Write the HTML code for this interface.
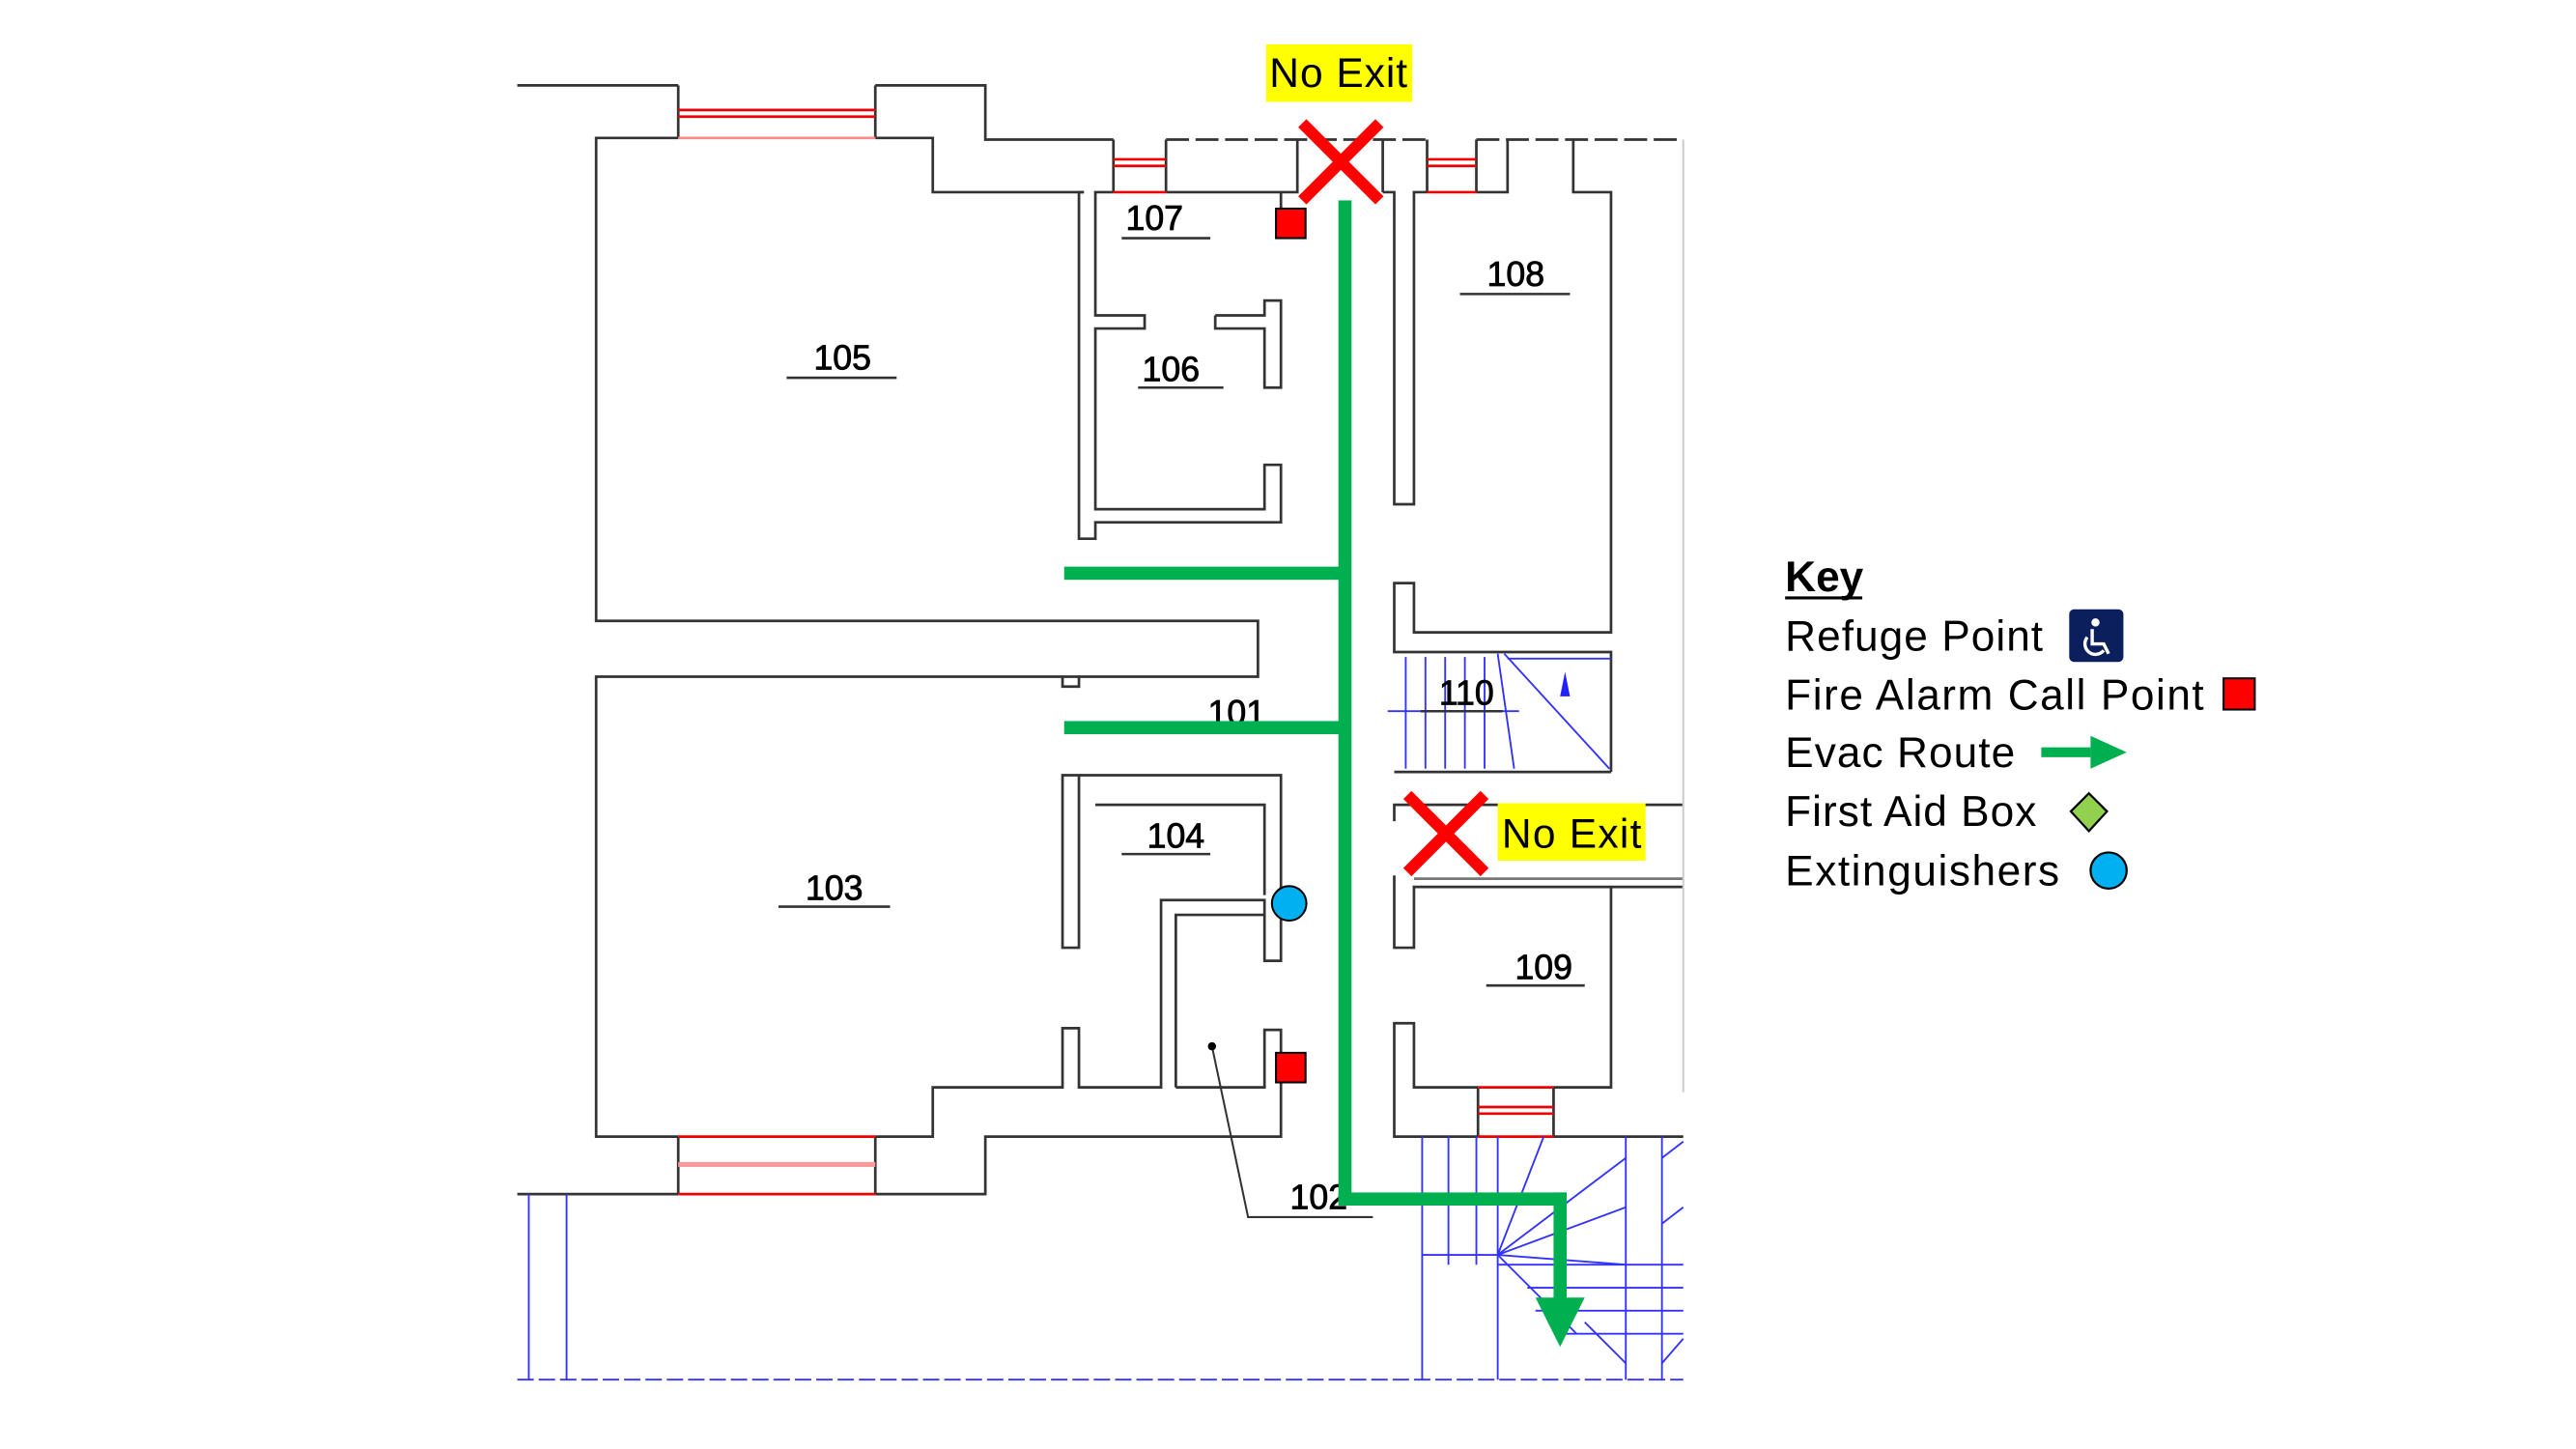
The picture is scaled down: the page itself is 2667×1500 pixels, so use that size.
<!DOCTYPE html>
<html><head><meta charset="utf-8"><style>
html,body{margin:0;padding:0;background:#fff;}
svg{display:block;}
text{font-family:"Liberation Sans",sans-serif;}
</style></head><body>
<svg width="2667" height="1500" viewBox="0 0 1568.6 882.2" preserveAspectRatio="none" xmlns="http://www.w3.org/2000/svg">
<rect width="1568.6" height="882.2" fill="#fff"/>
<g stroke="#333" stroke-width="1.6" fill="none">
<polyline points="315,52 413,52"/>
<polyline points="533,52 600,52 600,85 678,85"/>
<line x1="710" y1="85" x2="869" y2="85" stroke-dasharray="14 4"/>
<line x1="899" y1="85" x2="1025" y2="85" stroke-dasharray="14 4"/>
<line x1="413" y1="52" x2="413" y2="84"/><line x1="533" y1="52" x2="533" y2="84"/>
<polyline points="413,84 363,84 363,378 766,378 766,412 363,412 363,692 413,692"/>
<polyline points="533,84 568,84 568,117 660,117"/>
<polyline points="660,117 657,117 657,328 667,328 667,318 780,318 780,283 770,283 770,310 667,310 667,200 697,200 697,192 667,192 667,117 678,117"/>
<polyline points="740,192 770,192 770,183 780,183 780,236 770,236 770,200 740,200 740,192"/>
<polyline points="710,117 790,117 790,85"/>
<polyline points="780,117 780,140"/>
<line x1="678" y1="85" x2="678" y2="117"/><line x1="710" y1="85" x2="710" y2="117"/>
<line x1="842" y1="85" x2="842" y2="117"/>
<polyline points="842,117 849,117 849,307 861,307 861,117 869,117"/>
<line x1="869" y1="85" x2="869" y2="117"/><line x1="899" y1="85" x2="899" y2="117"/>
<polyline points="899,117 918,117 918,85"/>
<polyline points="958,85 958,117 981,117 981,385 861,385 861,355 849,355 849,397 981,397 981,470"/>
<polyline points="849,470 981,470"/>
<polyline points="849,500 849,490 1025,490"/>
<polyline points="849,533 849,577 861,577 861,540 1025,540"/>
<line x1="861" y1="535" x2="1025" y2="535" stroke="#777"/>
<polyline points="981,540 981,662 946,662"/>
<polyline points="900,662 861,662 861,623 849,623 849,692 900,692"/>
<polyline points="946,692 1025,692"/>
<line x1="900" y1="662" x2="900" y2="692"/><line x1="946" y1="662" x2="946" y2="692"/>
<polyline points="533,692 568,692 568,662 647,662 647,626 657,626 657,662 707,662 707,548 770,548 770,585 780,585 780,472 657,472 657,577 647,577 647,472 657,472"/>
<polyline points="667,490 770,490 770,545"/>
<polyline points="716,662 716,557 770,557"/>
<polyline points="716,662 770,662 770,627 780,627 780,692 600,692 600,727 533,727"/>
<line x1="413" y1="692" x2="413" y2="727"/><line x1="533" y1="692" x2="533" y2="727"/>
<polyline points="315,727 413,727"/>
<polyline points="647,412 647,418 657,418 657,412"/>
<polyline points="738,637 760,741 836,741" stroke-width="1.2"/>
</g>
<circle cx="738" cy="637" r="2.5" fill="#000"/>
<g stroke="#e00" stroke-width="1.6">
<line x1="413" y1="67" x2="533" y2="67"/><line x1="413" y1="71" x2="533" y2="71"/>
<line x1="413" y1="84" x2="533" y2="84" stroke="#f88"/>
<line x1="678" y1="97" x2="710" y2="97"/><line x1="678" y1="101" x2="710" y2="101"/>
<line x1="678" y1="117" x2="710" y2="117"/>
<line x1="869" y1="97" x2="899" y2="97"/><line x1="869" y1="101" x2="899" y2="101"/>
<line x1="869" y1="117" x2="899" y2="117"/>
<line x1="900" y1="662" x2="946" y2="662"/><line x1="900" y1="674" x2="946" y2="674"/><line x1="900" y1="678" x2="946" y2="678"/><line x1="900" y1="692" x2="946" y2="692"/>
<line x1="413" y1="692" x2="533" y2="692"/><line x1="413" y1="727" x2="533" y2="727"/>
<line x1="413" y1="709" x2="533" y2="709" stroke="#f99" stroke-width="3"/>
</g>
<line x1="1025" y1="85" x2="1025" y2="665" stroke="#ccc" stroke-width="1.2"/>
<g stroke="#33f" stroke-width="1.1" fill="none">
<line x1="856" y1="400" x2="856" y2="468"/><line x1="868" y1="400" x2="868" y2="468"/><line x1="880" y1="400" x2="880" y2="468"/><line x1="892" y1="400" x2="892" y2="468"/><line x1="904" y1="400" x2="904" y2="468"/>
<line x1="912" y1="398" x2="922" y2="468"/><line x1="916" y1="398" x2="980" y2="468"/>
<line x1="918" y1="401" x2="981" y2="401"/>
<line x1="845" y1="433" x2="925" y2="433"/>
<line x1="322" y1="727" x2="322" y2="840"/><line x1="345" y1="727" x2="345" y2="840"/>
<line x1="315" y1="840" x2="1025" y2="840" stroke-dasharray="10 3"/>
<line x1="866" y1="692" x2="866" y2="840"/><line x1="882" y1="692" x2="882" y2="770"/><line x1="899" y1="692" x2="899" y2="770"/>
<line x1="912" y1="692" x2="912" y2="840"/><line x1="990" y1="692" x2="990" y2="840"/><line x1="1012" y1="692" x2="1012" y2="840"/>
<line x1="866" y1="764" x2="912" y2="764"/>
<line x1="940" y1="692" x2="912" y2="764"/>
<line x1="912" y1="764" x2="990" y2="705"/><line x1="912" y1="764" x2="990" y2="735"/><line x1="912" y1="764" x2="990" y2="770"/>
<line x1="912" y1="764" x2="960" y2="812"/><line x1="965" y1="805" x2="990" y2="830"/>
<line x1="912" y1="770" x2="1025" y2="770"/><line x1="930" y1="784" x2="1025" y2="784"/><line x1="935" y1="798" x2="1025" y2="798"/><line x1="950" y1="812" x2="1025" y2="812"/>
<line x1="1012" y1="705" x2="1025" y2="695"/><line x1="1012" y1="745" x2="1025" y2="735"/><line x1="1012" y1="830" x2="1025" y2="815"/>
</g>
<polygon points="953,409 956,424 950,424" fill="#22f"/>
<g font-size="21" fill="#000" text-anchor="middle" stroke="#000" stroke-width="0.5">
<text x="703" y="140">107</text><text x="713" y="232">106</text><text x="513" y="225">105</text>
<text x="923" y="174">108</text><text x="893" y="429">110</text><text x="753" y="441">101</text>
<text x="716" y="516">104</text><text x="508" y="548">103</text><text x="940" y="596">109</text>
<text x="803" y="736">102</text>
</g>
<g stroke="#333" stroke-width="1.5">
<line x1="683" y1="145" x2="737" y2="145"/><line x1="693" y1="236" x2="745" y2="236"/><line x1="479" y1="230" x2="546" y2="230"/>
<line x1="889" y1="179" x2="956" y2="179"/><line x1="865" y1="433" x2="915" y2="433"/><line x1="683" y1="520" x2="737" y2="520"/>
<line x1="474" y1="552" x2="542" y2="552"/><line x1="905" y1="600" x2="965" y2="600"/>
</g>
<g fill="#00b050">
<rect x="815" y="122" width="8" height="612"/>
<rect x="648" y="345" width="171" height="8"/>
<rect x="648" y="439" width="171" height="8"/>
<rect x="815" y="726" width="139" height="8"/>
<rect x="946" y="726" width="8" height="66"/>
<polygon points="935,790 965,790 950,820"/>
</g>
<rect x="777" y="127" width="18" height="18" fill="#f00" stroke="#000" stroke-width="1.2"/>
<rect x="777" y="641" width="18" height="18" fill="#f00" stroke="#000" stroke-width="1.2"/>
<circle cx="785" cy="550" r="10.5" fill="#00b0f0" stroke="#000" stroke-width="1.2"/>
<rect x="771" y="27" width="89" height="35" fill="#ff0"/>
<text x="815" y="53" font-size="25" text-anchor="middle" textLength="84">No Exit</text>
<g stroke="#f00" stroke-width="7"><line x1="793" y1="75" x2="840" y2="122"/><line x1="840" y1="75" x2="793" y2="122"/></g>
<rect x="912" y="489" width="90" height="35" fill="#ff0"/>
<text x="957" y="516" font-size="25" text-anchor="middle" textLength="85">No Exit</text>
<g stroke="#f00" stroke-width="7"><line x1="857" y1="484" x2="904" y2="531"/><line x1="904" y1="484" x2="857" y2="531"/></g>
<g font-size="26" fill="#000">
<text x="1087" y="360" font-weight="bold">Key</text>
<text x="1087" y="396" textLength="157">Refuge Point</text>
<text x="1087" y="432" textLength="255">Fire Alarm Call Point</text>
<text x="1087" y="467" textLength="140">Evac Route</text>
<text x="1087" y="503" textLength="153">First Aid Box</text>
<text x="1087" y="539" textLength="167">Extinguishers</text>
</g>
<line x1="1087" y1="364" x2="1134" y2="364" stroke="#000" stroke-width="1.8"/>
<rect x="1260" y="371" width="33" height="32" rx="3" fill="#0a1f5c"/>
<g stroke="#fff" stroke-width="2" fill="none"><circle cx="1276" cy="379" r="1.5" fill="#fff"/><path d="M1274 383 L1274 392 L1281 392 L1284 398"/><path d="M1271 388 A6 6 0 1 0 1281 396"/></g>
<rect x="1354" y="413" width="19" height="19" fill="#f00" stroke="#000" stroke-width="1.2"/>
<rect x="1243" y="455" width="30" height="6" fill="#00b050"/>
<polygon points="1273,448 1295,458 1273,468" fill="#00b050"/>
<polygon points="1272,483 1283,494 1272,506 1261,494" fill="#92d050" stroke="#000" stroke-width="1.3"/>
<circle cx="1284" cy="530" r="11" fill="#00b0f0" stroke="#000" stroke-width="1.3"/>
</svg>
</body></html>
